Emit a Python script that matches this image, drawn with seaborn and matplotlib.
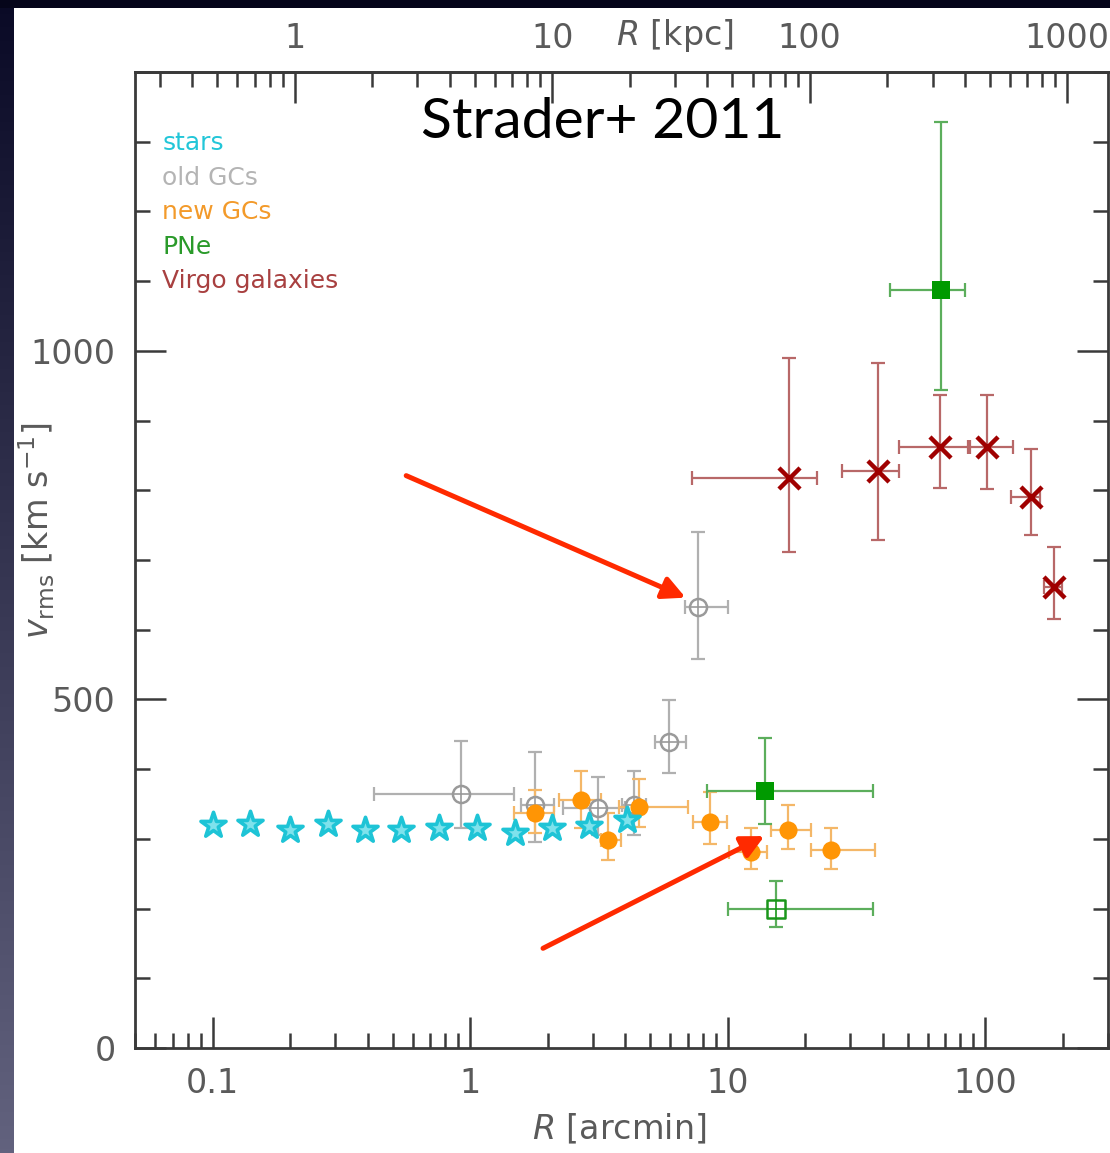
import matplotlib
matplotlib.use("Agg")
import numpy as np
import pandas as pd
import seaborn as sns
import matplotlib.pyplot as plt
from matplotlib.patches import Rectangle
from matplotlib.ticker import FixedLocator, FuncFormatter, LogLocator, MultipleLocator

# ---- data (R in arcmin, v_rms in km/s; error bars given as low/high bounds) ----
stars_r = [0.10, 0.14, 0.20, 0.28, 0.39, 0.54, 0.76, 1.06, 1.49, 2.08, 2.90, 4.08]
stars_v = [320, 321, 313, 321, 312, 313, 316, 316, 308, 316, 318, 327]

old_r = [0.92, 1.79, 3.14, 4.33, 5.92, 7.67]
old_v = [365, 348, 344, 348, 439, 632]
old_v_lo = [315, 296, 305, 305, 394, 558]
old_v_hi = [440, 424, 389, 398, 499, 740]
old_r_lo = [0.424, 1.58, 2.30, 3.90, 5.23, 6.83]
old_r_hi = [1.486, 2.12, 4.00, 4.80, 6.87, 10.06]

new_r = [1.79, 2.69, 3.42, 4.53, 8.51, 12.36, 17.18, 25.2]
new_v = [337, 356, 299, 346, 324, 281, 312, 284]
new_v_lo = [308, 316, 269, 317, 293, 257, 286, 257]
new_v_hi = [370, 398, 337, 386, 367, 315, 348, 315]
new_r_lo = [1.486, 2.21, 3.22, 3.80, 7.34, 10.12, 14.68, 21.1]
new_r_hi = [2.11, 3.22, 3.85, 7.02, 9.97, 14.26, 20.99, 37.5]

pne_r = [14.03, 15.35, 67.3]
pne_v = [369, 199, 1087]
pne_v_lo = [322, 173, 944]
pne_v_hi = [445, 239, 1328]
pne_r_lo = [8.29, 10.03, 42.8]
pne_r_hi = [36.7, 36.7, 83.5]
pne_filled = [True, False, True]

virgo_r = [17.28, 38.4, 66.9, 101.5, 150.7, 185.0]
virgo_v = [817, 827, 862, 862, 790, 661]
virgo_v_lo = [711, 728, 803, 802, 736, 616]
virgo_v_hi = [990, 983, 937, 937, 859, 718]
virgo_r_lo = [7.29, 27.85, 46.1, 86.1, 126.1, 169.5]
virgo_r_hi = [22.27, 46.1, 87.5, 128.8, 163.3, 198.0]

legend_labels = ["stars", "old GCs", "new GCs", "PNe", "Virgo galaxies"]
legend_colors = ["#22c6d8", "#b4b4b4", "#f39a2a", "#2a9a2a", "#a84040"]

# red arrows: (tail R, tail v) -> (head R, head v)
arrows = [((0.565, 821), (6.87, 646)),
          ((1.92, 143), (13.9, 304))]

kpc_per_arcmin = 4.8

# ---- figure ----
sns.set_theme(style="white")
plt.rcParams["font.family"] = ["DejaVu Sans"]

W, H = 1110, 1153
fig = plt.figure(figsize=(W / 100, H / 100), dpi=100)
fig.patch.set_facecolor("#06061a")

# dark slide background with gradient on the left strip, white panel on top
bg = fig.add_axes([0, 0, 1, 1], zorder=-10)
grad = np.linspace(0, 1, 256).reshape(-1, 1)
cmap = matplotlib.colors.LinearSegmentedColormap.from_list("slide", ["#62627e", "#0a0a26"])
bg.imshow(grad, aspect="auto", cmap=cmap, extent=[0, 1, 0, 1], origin="lower")
bg.add_patch(Rectangle((0, 1 - 8 / H), 1, 8 / H, color="#05051a", lw=0))
bg.add_patch(Rectangle((14 / W, 0), 1, 1 - 8 / H, color="white", lw=0))
bg.set_xlim(0, 1)
bg.set_ylim(0, 1)
bg.axis("off")

ax = fig.add_axes([135 / W, 1 - 1048 / H, 973 / W, 976 / H])
ax.set_facecolor("none")
ax.set_xscale("log")
ax.set_xlim(0.05, 300)
ax.set_ylim(0, 1400)


def bars(r, v, rlo, rhi, vlo, vhi, col):
    r, v = np.array(r), np.array(v)
    ax.errorbar(r, v,
                xerr=[r - np.array(rlo), np.array(rhi) - r],
                yerr=[v - np.array(vlo), np.array(vhi) - v],
                fmt="none", ecolor=col, elinewidth=1.6, capsize=5, capthick=1.6,
                zorder=2)


bars(old_r, old_v, old_r_lo, old_r_hi, old_v_lo, old_v_hi, "#b0b0b0")
bars(new_r, new_v, new_r_lo, new_r_hi, new_v_lo, new_v_hi, "#f4b768")
bars(pne_r, pne_v, pne_r_lo, pne_r_hi, pne_v_lo, pne_v_hi, "#5cae5c")
bars(virgo_r, virgo_v, virgo_r_lo, virgo_r_hi, virgo_v_lo, virgo_v_hi, "#b86868")

# stars
sns.scatterplot(x=stars_r, y=stars_v, marker="*", s=360, color="#7ee2ec",
                edgecolor="#1ec4d6", linewidth=2.6, ax=ax, zorder=4)

# old GCs: open circle with a cross
ax.scatter(old_r, old_v, marker="o", s=150, facecolors="white",
           edgecolors="#9a9a9a", linewidths=1.8, zorder=3)
ax.scatter(old_r, old_v, marker="+", s=150, color="#9a9a9a", linewidths=1.2, zorder=3)

# new GCs
sns.scatterplot(x=new_r, y=new_v, marker="o", s=170, color="#ff9505",
                edgecolor="#ff9505", linewidth=0, ax=ax, zorder=3)

# PNe
pne = pd.DataFrame({"r": pne_r, "v": pne_v, "filled": pne_filled})
full = pne[pne["filled"]]
sns.scatterplot(data=full, x="r", y="v", marker="s", s=150, color="#009a00",
                edgecolor="#009a00", linewidth=0, ax=ax, zorder=3)
hollow = pne[~pne["filled"]]
ax.scatter(hollow["r"], hollow["v"], marker="s", s=150, facecolors="white",
           edgecolors="#1a961a", linewidths=1.8, zorder=3)
ax.scatter(hollow["r"], hollow["v"], marker="+", s=150, color="#1a961a",
           linewidths=1.2, zorder=3)

# Virgo galaxies
ax.scatter(virgo_r, virgo_v, marker="x", s=230, color="#a00000", linewidths=3.2, zorder=3)

# ---- axes styling ----
for sp in ax.spines.values():
    sp.set_color("#3a3a3a")
    sp.set_linewidth(2)

ax.xaxis.set_major_locator(FixedLocator([0.1, 1, 10, 100]))
ax.xaxis.set_minor_locator(LogLocator(base=10, subs=np.arange(2, 10), numticks=20))
ax.xaxis.set_major_formatter(FuncFormatter(lambda v, p: "%g" % v))
ax.yaxis.set_major_locator(FixedLocator([0, 500, 1000]))
ax.yaxis.set_minor_locator(MultipleLocator(100))

ax.tick_params(which="both", direction="in", color="#3a3a3a", width=1.8,
               labelcolor="#5a5a5a", labelsize=24, top=False, right=True, bottom=True, left=True)
ax.tick_params(which="major", length=22, pad=14)
ax.tick_params(which="minor", length=11)

sec = ax.secondary_xaxis("top", functions=(lambda r: r * kpc_per_arcmin,
                                           lambda k: k / kpc_per_arcmin))
sec.xaxis.set_major_locator(FixedLocator([1, 10, 100, 1000]))
sec.xaxis.set_minor_locator(LogLocator(base=10, subs=np.arange(2, 10), numticks=20))
sec.xaxis.set_major_formatter(FuncFormatter(lambda v, p: "%g" % v))
sec.tick_params(which="both", direction="in", color="#3a3a3a", width=1.8,
                labelcolor="#5a5a5a", labelsize=24)
sec.tick_params(which="major", length=22, pad=12)
sec.tick_params(which="minor", length=11)
sec.spines["top"].set_color("#3a3a3a")
sec.spines["top"].set_linewidth(2)
# top-axis label sits between the 10 and 100 tick labels
ax.text(0.555, 1.037, r"$R$ [kpc]", fontsize=24, color="#5a5a5a",
        transform=ax.transAxes, ha="center", va="center")

ax.set_xlabel(r"$R$ [arcmin]", fontsize=24, color="#5a5a5a")
ax.xaxis.set_label_coords(0.498, -0.066)
ax.set_ylabel(r"$v_{\rm rms}$ [km s$^{-1}$]", fontsize=24, color="#5a5a5a")
ax.yaxis.set_label_coords(-0.080, 0.53)

# legend as coloured text
for i, (lab, col) in enumerate(zip(legend_labels, legend_colors)):
    ax.text(0.028, 0.927 - i * 0.0353, lab, color=col, fontsize=18,
            transform=ax.transAxes, va="center", ha="left")

ax.text(0.481, 0.948, "Strader+ 2011", fontsize=41, color="black",
        family=["Lato", "DejaVu Sans"], transform=ax.transAxes, ha="center", va="center")

for (r0, v0), (r1, v1) in arrows:
    ax.annotate("", xy=(r1, v1), xytext=(r0, v0),
                arrowprops=dict(arrowstyle="-|>", color="#ff2a00", lw=3.6,
                                mutation_scale=34, shrinkA=0, shrinkB=0),
                zorder=6)

fig.savefig("out.png", dpi=100, facecolor=fig.get_facecolor())
